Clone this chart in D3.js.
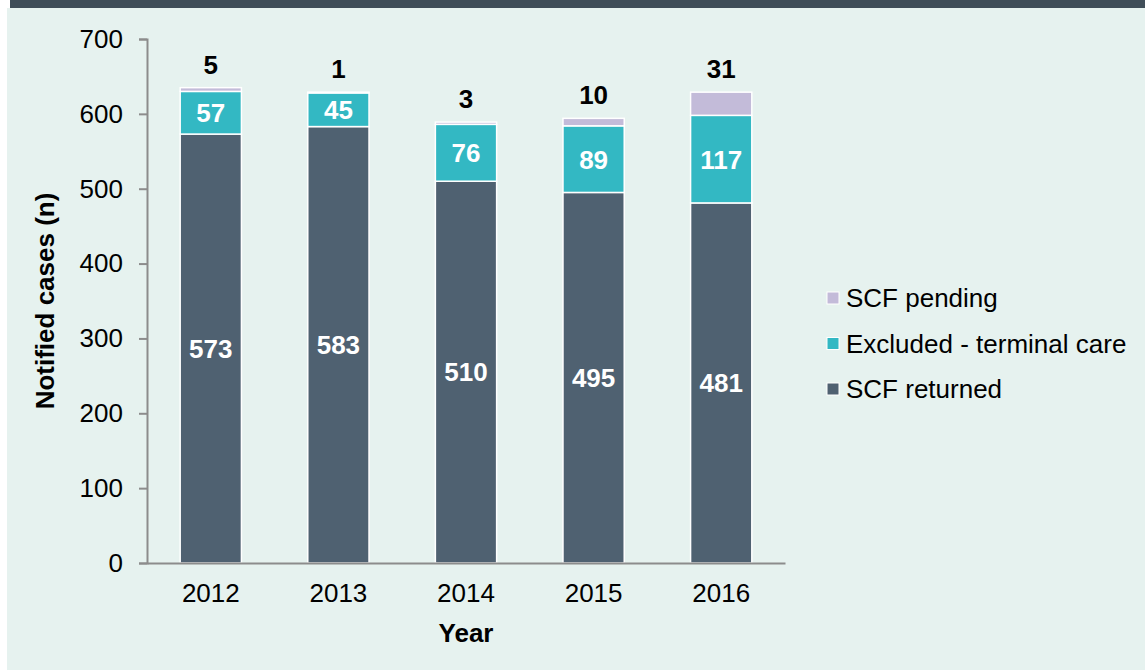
<!DOCTYPE html>
<html>
<head>
<meta charset="utf-8">
<script src="https://cdn.jsdelivr.net/npm/d3@7"></script>
<style>
	body { margin: 0; background: #fff; font-family: 'Liberation Sans', Arial, sans-serif; }
	#graphic { width: 1145px; height: 670px; }
</style>
</head>
<body>
<div id="graphic"></div>
<script>
// data
const years = ['2012', '2013', '2014', '2015', '2016'];
const scfReturned = [573, 583, 510, 495, 481];
const excludedTerminal = [57, 45, 76, 89, 117];
const scfPending = [5, 1, 3, 10, 31];
const yTicks = [0, 100, 200, 300, 400, 500, 600, 700];

const seriesNames = ['SCF returned', 'Excluded - terminal care', 'SCF pending'];
const colours = ['#4f6171', '#33b8c3', '#c3bbd9'];

let graphic = d3.select('#graphic');
const fontSize = 26;

function drawGraphic() {
	let width = 1145, height = 670;
	let margin = { top: 39, left: 147, bottom: 107, right: 360 };
	let chart_width = width - margin.left - margin.right;
	let chart_height = height - margin.top - margin.bottom;

	let graphic_data = years.map((y, i) => ({
		year: y,
		'SCF returned': scfReturned[i],
		'Excluded - terminal care': excludedTerminal[i],
		'SCF pending': scfPending[i]
	}));

	let stack = d3.stack().keys(seriesNames)(graphic_data);

	let svg = graphic.append('svg')
		.attr('width', width)
		.attr('height', height)
		.style('font-family', 'Liberation Sans, Arial, sans-serif');

	// background panel + top band
	svg.append('rect').attr('x', 7).attr('y', 8).attr('width', width - 7).attr('height', height - 8).attr('fill', '#e6f2ef');
	svg.append('rect').attr('x', 10).attr('y', 0).attr('width', width - 10).attr('height', 8).attr('fill', '#3f4e58');

	let g = svg.append('g').attr('transform', 'translate(' + margin.left + ',' + margin.top + ')');

	const x = d3.scaleBand().domain(years).range([0, chart_width]).paddingInner(0.52).paddingOuter(0.26);
	const y = d3.scaleLinear().domain([0, 700]).range([chart_height, 0]);

	// y axis
	let yAxis = g.append('g').attr('class', 'y axis')
		.call(d3.axisLeft(y).tickValues(yTicks).tickSize(8).tickPadding(16).tickFormat(d3.format('d')));
	yAxis.attr('font-size', fontSize).attr('font-family', null);
	yAxis.select('.domain').attr('stroke', '#8c8c8c').attr('stroke-width', 2);
	yAxis.selectAll('line').attr('stroke', '#8c8c8c').attr('stroke-width', 2);
	yAxis.selectAll('text').attr('fill', '#000');

	// bars
	g.selectAll('g.series')
		.data(stack)
		.join('g')
		.attr('class', 'series')
		.attr('fill', (d, i) => colours[i])
		.selectAll('rect')
		.data(d => d)
		.join('rect')
		.attr('x', d => x(d.data.year))
		.attr('y', d => y(d[1]))
		.attr('width', x.bandwidth())
		.attr('height', d => y(d[0]) - y(d[1]))
		.attr('stroke', '#fff')
		.attr('stroke-width', 1.5);

	// x axis
	let xAxis = g.append('g').attr('class', 'x axis')
		.attr('transform', 'translate(0,' + chart_height + ')')
		.call(d3.axisBottom(x).tickSize(0).tickPadding(21));
	xAxis.attr('font-size', fontSize).attr('font-family', null);
	xAxis.select('.domain').attr('stroke', '#8c8c8c').attr('stroke-width', 2);
	xAxis.selectAll('text').attr('fill', '#000');

	// segment labels (white, inside)
	stack.slice(0, 2).forEach(s => {
		g.selectAll(null)
			.data(s)
			.join('text')
			.attr('x', d => x(d.data.year) + x.bandwidth() / 2)
			.attr('y', d => (y(d[0]) + y(d[1])) / 2)
			.attr('dy', '0.36em')
			.attr('text-anchor', 'middle')
			.attr('font-size', fontSize)
			.attr('font-weight', 'bold')
			.attr('fill', '#fff')
			.text(d => d[1] - d[0]);
	});

	// pending labels above the bars
	g.selectAll(null)
		.data(stack[2])
		.join('text')
		.attr('x', d => x(d.data.year) + x.bandwidth() / 2)
		.attr('y', d => y(d[1]) - 14)
		.attr('text-anchor', 'middle')
		.attr('font-size', fontSize)
		.attr('font-weight', 'bold')
		.attr('fill', '#000')
		.text(d => d[1] - d[0]);

	// axis titles
	g.append('text')
		.attr('transform', 'translate(-93,' + chart_height / 2 + ') rotate(-90)')
		.attr('text-anchor', 'middle')
		.attr('font-size', fontSize)
		.attr('font-weight', 'bold')
		.text('Notified cases (n)');

	g.append('text')
		.attr('x', chart_width / 2)
		.attr('y', chart_height + 79)
		.attr('text-anchor', 'middle')
		.attr('font-size', fontSize)
		.attr('font-weight', 'bold')
		.text('Year');

	// legend
	let legendItems = seriesNames.slice().reverse();
	let legend = svg.append('g').attr('transform', 'translate(827,298)');
	legendItems.forEach((name, i) => {
		let row = legend.append('g').attr('transform', 'translate(0,' + i * 45.5 + ')');
		row.append('rect').attr('x', 0).attr('y', -6).attr('width', 12).attr('height', 12)
			.attr('fill', colours[seriesNames.indexOf(name)]).attr('stroke', '#fff').attr('stroke-width', 1);
		row.append('text').attr('x', 19).attr('y', 0).attr('dy', '0.36em')
			.attr('font-size', fontSize).attr('fill', '#000').text(name);
	});
}

drawGraphic();
</script>
</body>
</html>
